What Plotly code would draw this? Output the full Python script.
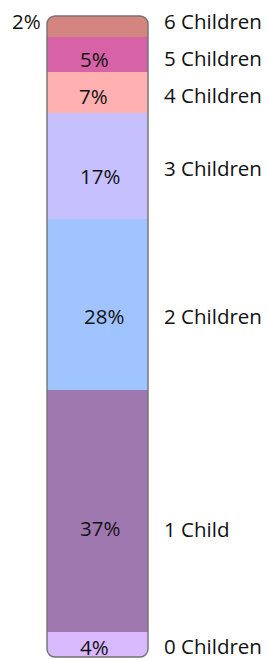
import plotly.graph_objects as go

# Data (bottom to top)
categories = ["0 Children", "1 Child", "2 Children", "3 Children", "4 Children", "5 Children", "6 Children"]
shares = [3.9, 37.76, 26.65, 16.57, 6.39, 5.46, 3.27]
pct_labels = ["4%", "37%", "28%", "17%", "7%", "5%", "2%"]
colors = ["#d9b9ff", "#a078b0", "#a0c4ff", "#c7c0ff", "#ffb0b0", "#d762a8", "#d5857f"]

# label pixel offsets (down = positive) relative to segment centre
pct_dy = [2, 17, 11.5, 10, 3.3, 4.5, -5]
pct_dx = [-3, 2, 6, 2, -4, -3, 0]
cat_dy = [1, 18, 11.5, 2, 3, 4, -5.7]

W, H = 268, 660
ML, MT = 47.3, 15.7
PW, PH = 101.0, 641.6
MR = W - ML - PW
MB = H - MT - PH
FONT = "Open Sans"
FS = 20.5

fig = go.Figure()
for cat, v, c in zip(categories, shares, colors):
    fig.add_trace(go.Bar(x=[0], y=[v], name=cat, marker=dict(color=c, line=dict(width=0)),
                         width=1, showlegend=False, hoverinfo="skip"))

annotations = []
cum = 0
n = len(categories)
for i, (cat, v, lab) in enumerate(zip(categories, shares, pct_labels)):
    mid = cum + v / 2
    cum += v
    if i == n - 1:
        annotations.append(dict(x=0, xref="paper", y=mid, yref="y", text=lab, showarrow=False,
                                xanchor="right", yanchor="middle", xshift=-4.5, yshift=-pct_dy[i],
                                font=dict(family=FONT, size=FS, color="#111")))
    else:
        annotations.append(dict(x=0, xref="x", y=mid, yref="y", text=lab, showarrow=False,
                                xanchor="center", yanchor="middle", xshift=pct_dx[i], yshift=-pct_dy[i],
                                font=dict(family=FONT, size=FS, color="#111")))
    annotations.append(dict(x=1, xref="paper", y=mid, yref="y", text=cat, showarrow=False,
                            xanchor="left", yanchor="middle", xshift=13.5, yshift=-cat_dy[i],
                            font=dict(family=FONT, size=FS, color="#111")))

# rounded-rectangle outline and white corner masks (paper coordinates)
r = 8
rx, ry = r / PW, r / PH
k = 0.5523
e = 0.02

def corner_mask(cx, cy, sx, sy):
    ax, ay = cx + sx * rx, cy
    bx, by = cx, cy + sy * ry
    return (f"M {cx - sx*e},{cy - sy*e} L {ax},{cy - sy*e} L {ax},{ay} "
            f"C {ax - sx*k*rx},{ay} {bx},{by - sy*k*ry} {bx},{by} "
            f"L {cx - sx*e},{by} Z")

shapes = []
for cx, cy, sx, sy in [(0, 1, 1, -1), (1, 1, -1, -1), (0, 0, 1, 1), (1, 0, -1, 1)]:
    shapes.append(dict(type="path", xref="paper", yref="paper", path=corner_mask(cx, cy, sx, sy),
                       fillcolor="white", line=dict(width=0), layer="above"))

border = (f"M 0,{ry} L 0,{1-ry} C 0,{1-ry+k*ry} {rx-k*rx},1 {rx},1 "
          f"L {1-rx},1 C {1-rx+k*rx},1 1,{1-ry+k*ry} 1,{1-ry} "
          f"L 1,{ry} C 1,{ry-k*ry} {1-rx+k*rx},0 {1-rx},0 "
          f"L {rx},0 C {rx-k*rx},0 0,{ry-k*ry} 0,{ry} Z")
shapes.append(dict(type="path", xref="paper", yref="paper", path=border,
                   line=dict(color="#727272", width=1.4), fillcolor="rgba(0,0,0,0)", layer="above"))

fig.update_layout(
    barmode="stack",
    width=W, height=H, autosize=False,
    margin=dict(l=ML, r=MR, t=MT, b=MB, pad=0),
    paper_bgcolor="white", plot_bgcolor="white",
    xaxis=dict(range=[-0.5, 0.5], visible=False, fixedrange=True),
    yaxis=dict(range=[0, 100], visible=False, fixedrange=True),
    annotations=annotations, shapes=shapes,
)

fig.write_html("out.html", config={"displayModeBar": False},
               post_script="document.body.style.margin='0';document.body.style.overflow='hidden';")
